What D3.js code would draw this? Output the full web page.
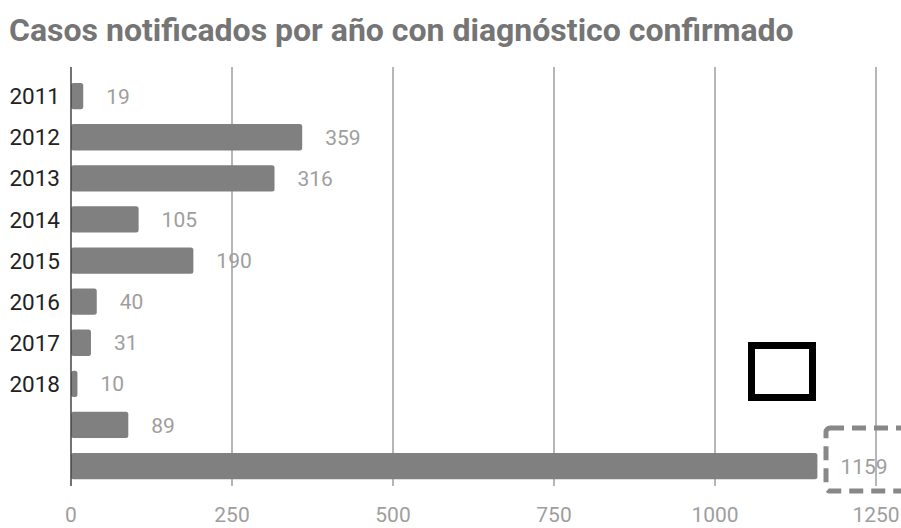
<!DOCTYPE html>
<html>
<head>
<meta charset="utf-8">
<script src="https://cdn.jsdelivr.net/npm/d3@7"></script>
<style>
  body { margin: 0; background: #fff; }
  svg { display: block; font-family: Roboto, "Noto Sans", sans-serif; }
</style>
</head>
<body>
<div id="chart"></div>
<script>
// Casos notificados por año con diagnóstico confirmado
const categories = ["2011", "2012", "2013", "2014", "2015", "2016", "2017", "2018", "sin año", "total"];
const categoryLabels = ["2011", "2012", "2013", "2014", "2015", "2016", "2017", "2018", "", ""];
const casos = [19, 359, 316, 105, 190, 40, 31, 10, 89, 1159];
const xTicks = [0, 250, 500, 750, 1000, 1250];

function createBarChart() {
    const width = 901;
    const height = 528;
    const margin = { top: 67, right: 25, bottom: 36, left: 71 };

    const svg = d3.select("#chart").append("svg")
        .attr("width", width)
        .attr("height", height);

    // Title
    svg.append("text")
        .attr("x", 9)
        .attr("y", 41)
        .style("font-size", "32px")
        .style("font-weight", "bold")
        .style("fill", "#757575")
        .text("Casos notificados por año con diagnóstico confirmado");

    const data = categories.map((c, i) => ({ key: c, label: categoryLabels[i], value: casos[i] }));

    const x = d3.scaleLinear()
        .domain([0, 1250])
        .range([margin.left, 876]);

    const y = d3.scaleBand()
        .domain(categories)
        .range([75.6, 486.6])
        .paddingInner(0.36)
        .paddingOuter(0.18);

    const plotBottom = height - margin.bottom - 6;

    // Gridlines
    svg.append("g")
        .selectAll("line")
        .data(xTicks.slice(1))
        .enter().append("line")
        .attr("x1", d => x(d))
        .attr("x2", d => x(d))
        .attr("y1", margin.top)
        .attr("y2", plotBottom)
        .style("stroke", "#9e9e9e")
        .style("stroke-width", 1.5);

    // Tick labels along the bottom
    svg.append("g")
        .selectAll("text")
        .data(xTicks)
        .enter().append("text")
        .attr("x", d => x(d))
        .attr("y", 522)
        .attr("text-anchor", "middle")
        .style("font-size", "21px")
        .style("fill", "#9e9e9e")
        .text(d => d);

    // Bars
    svg.append("g")
        .selectAll("rect")
        .data(data)
        .enter().append("rect")
        .attr("x", x(0))
        .attr("y", d => y(d.key))
        .attr("width", d => x(d.value) - x(0))
        .attr("height", y.bandwidth())
        .attr("rx", 2.5)
        .style("fill", "#808080");

    // Baseline axis
    svg.append("line")
        .attr("x1", x(0))
        .attr("x2", x(0))
        .attr("y1", margin.top)
        .attr("y2", plotBottom)
        .style("stroke", "#444")
        .style("stroke-width", 1.5);

    // Value labels
    svg.append("g")
        .selectAll("text")
        .data(data)
        .enter().append("text")
        .attr("x", d => x(d.value) + 23)
        .attr("y", d => y(d.key) + y.bandwidth() / 2)
        .attr("dy", "0.36em")
        .style("font-size", "21px")
        .style("fill", "#9e9e9e")
        .text(d => d.value);

    // Category labels
    svg.append("g")
        .selectAll("text")
        .data(data)
        .enter().append("text")
        .attr("x", 60)
        .attr("y", d => y(d.key) + y.bandwidth() / 2)
        .attr("dy", "0.36em")
        .attr("text-anchor", "end")
        .style("font-size", "22.5px")
        .style("fill", "#222")
        .text(d => d.label);

    // Annotations: solid box and dashed highlight around the total
    svg.append("rect")
        .attr("x", 751.5)
        .attr("y", 345.5)
        .attr("width", 61)
        .attr("height", 52)
        .style("fill", "none")
        .style("stroke", "#000")
        .style("stroke-width", 7);

    svg.append("rect")
        .attr("x", 826)
        .attr("y", 428)
        .attr("width", 90)
        .attr("height", 63)
        .attr("rx", 4)
        .style("fill", "none")
        .style("stroke", "#888")
        .style("stroke-width", 5)
        .style("stroke-dasharray", "14,8");
}

createBarChart();
</script>
</body>
</html>
